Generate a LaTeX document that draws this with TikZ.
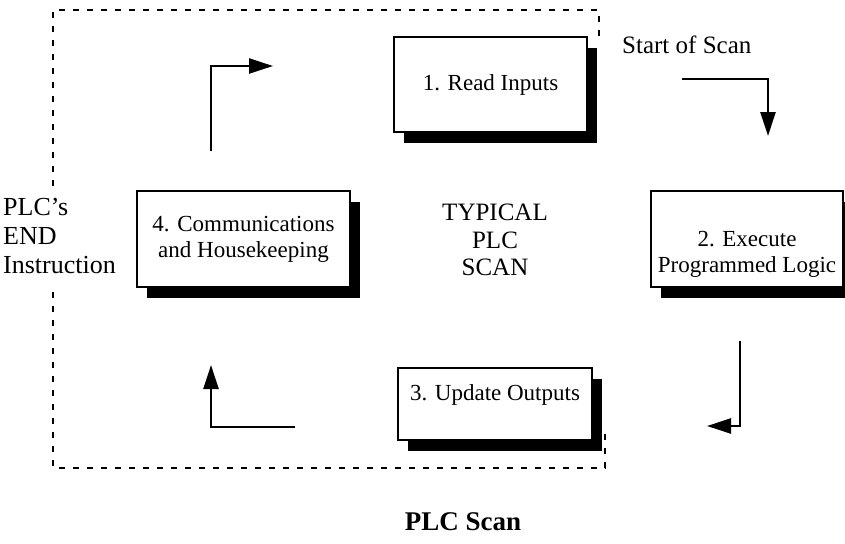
\documentclass[tikz,border=0pt]{standalone}
\usepackage{fontspec}
\setmainfont{Liberation Serif}
\usetikzlibrary{arrows.meta,shadows}
\begin{document}
\begin{tikzpicture}[x=1pt,y=-1pt,
  box/.style={draw, line width=2pt, fill=white, inner sep=0pt, align=center,
    font=\fontsize{23}{26}\selectfont,
    drop shadow={opacity=1, fill=black, shadow xshift=10pt, shadow yshift=-11pt}},
  txt/.style={inner sep=0pt, align=center, font=\fontsize{23}{26}\selectfont},
  arr/.style={line width=2.5pt, -{Triangle[length=24pt,width=15pt]}},
  frame/.style={line width=1.2pt, dash pattern=on 6pt off 8pt}]
\useasboundingbox (0,0) rectangle (845,543);
% dashed frame
\coordinate (f1) at (53,186);
\coordinate (f2) at (53,10);
\coordinate (f3) at (599,10);
\coordinate (f4) at (599,43);
\coordinate (f5) at (53,292);
\coordinate (f6) at (53,468);
\coordinate (f7) at (605,468);
\coordinate (f8) at (605,432);
\draw[frame] (f1) -- (f2) -- (f3) -- (f4);
\draw[frame] (f5) -- (f6) -- (f7) -- (f8);
% boxes
\node[box, minimum width=193pt, minimum height=95pt] (b1) at (490.5,84.5) {1. Read Inputs};
\node[box, minimum width=192pt, minimum height=96pt] (b2) at (747,239) {};
\node[txt] (t2) at (747,254) {2. Execute\\Programmed Logic};
\node[box, minimum width=194pt, minimum height=72pt] (b3) at (495,404) {};
\node[txt] (t3) at (495,395) {3. Update Outputs};
\node[box, minimum width=213pt, minimum height=96pt] (b4) at (243.5,239) {4. Communications\\and Housekeeping};
% labels
\node[txt, font=\fontsize{25}{27.5}\selectfont] (typ) at (495,240) {TYPICAL\\PLC\\SCAN};
\node[txt, anchor=west, align=left, font=\fontsize{26}{29}\selectfont] (endl) at (3,236) {PLC’s\\END\\Instruction};
\node[txt, anchor=west, font=\fontsize{25}{27}\selectfont] (start) at (622,45) {Start of Scan};
\node[txt, font=\fontsize{27}{30}\selectfont\bfseries] (title) at (463,522) {PLC Scan};
% arrows
\coordinate (a1s) at (211,151);
\coordinate (a1e) at (273,66);
\draw[arr] (a1s) |- (a1e);
\coordinate (a2s) at (682,79);
\coordinate (a2e) at (768,136);
\draw[arr] (a2s) -| (a2e);
\coordinate (a3s) at (740,341);
\coordinate (a3e) at (707,426);
\draw[arr] (a3s) |- (a3e);
\coordinate (a4s) at (295,427);
\coordinate (a4e) at (211,365);
\draw[arr] (a4s) -| (a4e);
\end{tikzpicture}
\end{document}
